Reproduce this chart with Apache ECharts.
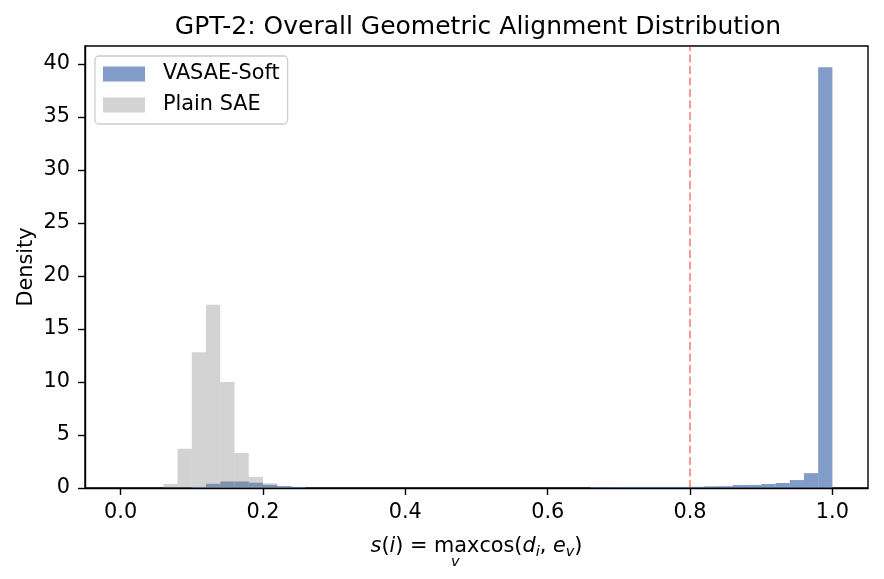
<!DOCTYPE html>
<html>
<head>
    <meta charset="utf-8">
    <title>GPT-2: Overall Geometric Alignment Distribution</title>
    <script src="https://cdn.jsdelivr.net/npm/echarts@6/dist/echarts.min.js"></script>
    <style>
        html, body { margin: 0; padding: 0; background: #fff; }
    </style>
</head>
<body>
<div id="chartmain" style="width:884px; height:579px;"></div>
<script type="text/javascript">
// histogram bins are 0.02 wide (np.linspace(0,1,51)); lower edge of each bin + density
var binWidth = 0.02;
var vasaeBinStart = [0.10, 0.12, 0.14, 0.16, 0.18, 0.20, 0.22, 0.24,
    0.66, 0.68, 0.70, 0.72, 0.74, 0.76, 0.78, 0.80,
    0.82, 0.84, 0.86, 0.88, 0.90, 0.92, 0.94, 0.96, 0.98];
var vasaeDensity = [0.1, 0.4, 0.62, 0.62, 0.5, 0.3, 0.18, 0.1,
    0.09, 0.09, 0.1, 0.1, 0.1, 0.1, 0.1, 0.11,
    0.16, 0.17, 0.28, 0.29, 0.38, 0.47, 0.75, 1.4, 39.7];
var plainBinStart = [0.06, 0.08, 0.10, 0.12, 0.14, 0.16, 0.18, 0.20, 0.22, 0.24];
var plainDensity = [0.38, 3.7, 12.8, 17.3, 10.0, 3.3, 1.05, 0.45, 0.1, 0.03];
var xTicks = [0.0, 0.2, 0.4, 0.6, 0.8, 1.0];
var yTicks = [0, 5, 10, 15, 20, 25, 30, 35, 40];
var threshold = 0.8;

var font = 'DejaVu Sans';
var fs = 20.8;

function toBars(starts, vals) {
    var out = [];
    for (var i = 0; i < starts.length; i++) {
        out.push([starts[i], starts[i] + binWidth, vals[i]]);
    }
    return out;
}

function renderBar(params, api) {
    var p0 = api.coord([api.value(0), api.value(2)]);
    var p1 = api.coord([api.value(1), 0]);
    return {
        type: 'rect',
        shape: { x: p0[0], y: p0[1], width: p1[0] - p0[0], height: p1[1] - p0[1] },
        style: { fill: api.visual('color') }
    };
}

var option = {
    animation: false,
    backgroundColor: '#fff',
    textStyle: { fontFamily: font },
    title: {
        text: 'GPT-2: Overall Geometric Alignment Distribution',
        left: 473, top: 10, textAlign: 'center',
        textStyle: { fontFamily: font, fontSize: 25, fontWeight: 'normal', color: '#000' }
    },
    legend: {
        orient: 'vertical', left: 95, top: 56,
        padding: [7.5, 8, 8.5, 8],
        itemWidth: 42, itemHeight: 15, itemGap: 10, icon: 'rect',
        backgroundColor: '#fff', borderColor: '#cccccc', borderWidth: 1.3, borderRadius: 4,
        textStyle: { fontFamily: font, fontSize: fs, color: '#000', padding: [0, 0, 0, 13] },
        data: ['VASAE-Soft', 'Plain SAE']
    },
    grid: {
        left: 85, right: 16, top: 46, bottom: 91,
        outerBoundsMode: 'none', containLabel: false,
        show: true, borderColor: '#000', borderWidth: 1.4
    },
    xAxis: {
        type: 'value', min: -0.05, max: 1.05,
        name: '{it|s}({it|i}) = max{sp|}cos({it|d}{sub|i}, {it|e}{sub|v})',
        nameLocation: 'middle', nameGap: 45,
        nameTextStyle: {
            fontFamily: font, fontSize: fs, color: '#000',
            rich: {
                it: { fontFamily: font, fontStyle: 'italic', fontSize: fs, color: '#000' },
                sub: { fontFamily: font, fontStyle: 'italic', fontSize: 14.5, color: '#000', padding: [12, 0, 0, 0] },
                sp: { width: 0 }
            }
        },
        axisLine: { show: true, onZero: false, lineStyle: { color: '#000', width: 1.4 } },
        axisTick: { show: true, length: 7, lineStyle: { color: '#000', width: 1.4 }, customValues: xTicks },
        axisLabel: {
            color: '#000', fontFamily: font, fontSize: fs, margin: 14,
            customValues: xTicks,
            formatter: function (v) { return v.toFixed(1); }
        },
        splitLine: { show: false }
    },
    yAxis: {
        type: 'value', min: 0, max: 41.7,
        name: 'Density', nameLocation: 'middle', nameGap: 48, nameRotate: 90,
        nameMoveOverlap: false,
        nameTextStyle: { fontFamily: font, fontSize: fs, color: '#000' },
        axisLine: { show: true, onZero: false, lineStyle: { color: '#000', width: 1.4 } },
        axisTick: { show: true, length: 7, lineStyle: { color: '#000', width: 1.4 }, customValues: yTicks },
        axisLabel: { color: '#000', fontFamily: font, fontSize: fs, margin: 15, customValues: yTicks },
        splitLine: { show: false }
    },
    graphic: [{
        type: 'text', left: 451, top: 555,
        style: { text: 'v', fontFamily: font, fontStyle: 'italic', fontSize: 14.5, fill: '#000' }
    }],
    series: [
        {
            name: 'VASAE-Soft', type: 'custom',
            itemStyle: { color: 'rgba(76,114,176,0.7)' },
            encode: { x: [0, 1], y: 2 },
            renderItem: renderBar,
            data: toBars(vasaeBinStart, vasaeDensity)
        },
        {
            name: 'Plain SAE', type: 'custom',
            itemStyle: { color: 'rgba(128,128,128,0.35)' },
            encode: { x: [0, 1], y: 2 },
            renderItem: renderBar,
            data: toBars(plainBinStart, plainDensity),
            markLine: {
                silent: true, symbol: 'none', label: { show: false },
                lineStyle: { color: 'rgba(255,0,0,0.5)', type: [8, 3.5], width: 1.6 },
                data: [{ xAxis: threshold }]
            }
        }
    ]
};

var myChart = echarts.init(document.getElementById('chartmain'));
myChart.setOption(option);
</script>
</body>
</html>
